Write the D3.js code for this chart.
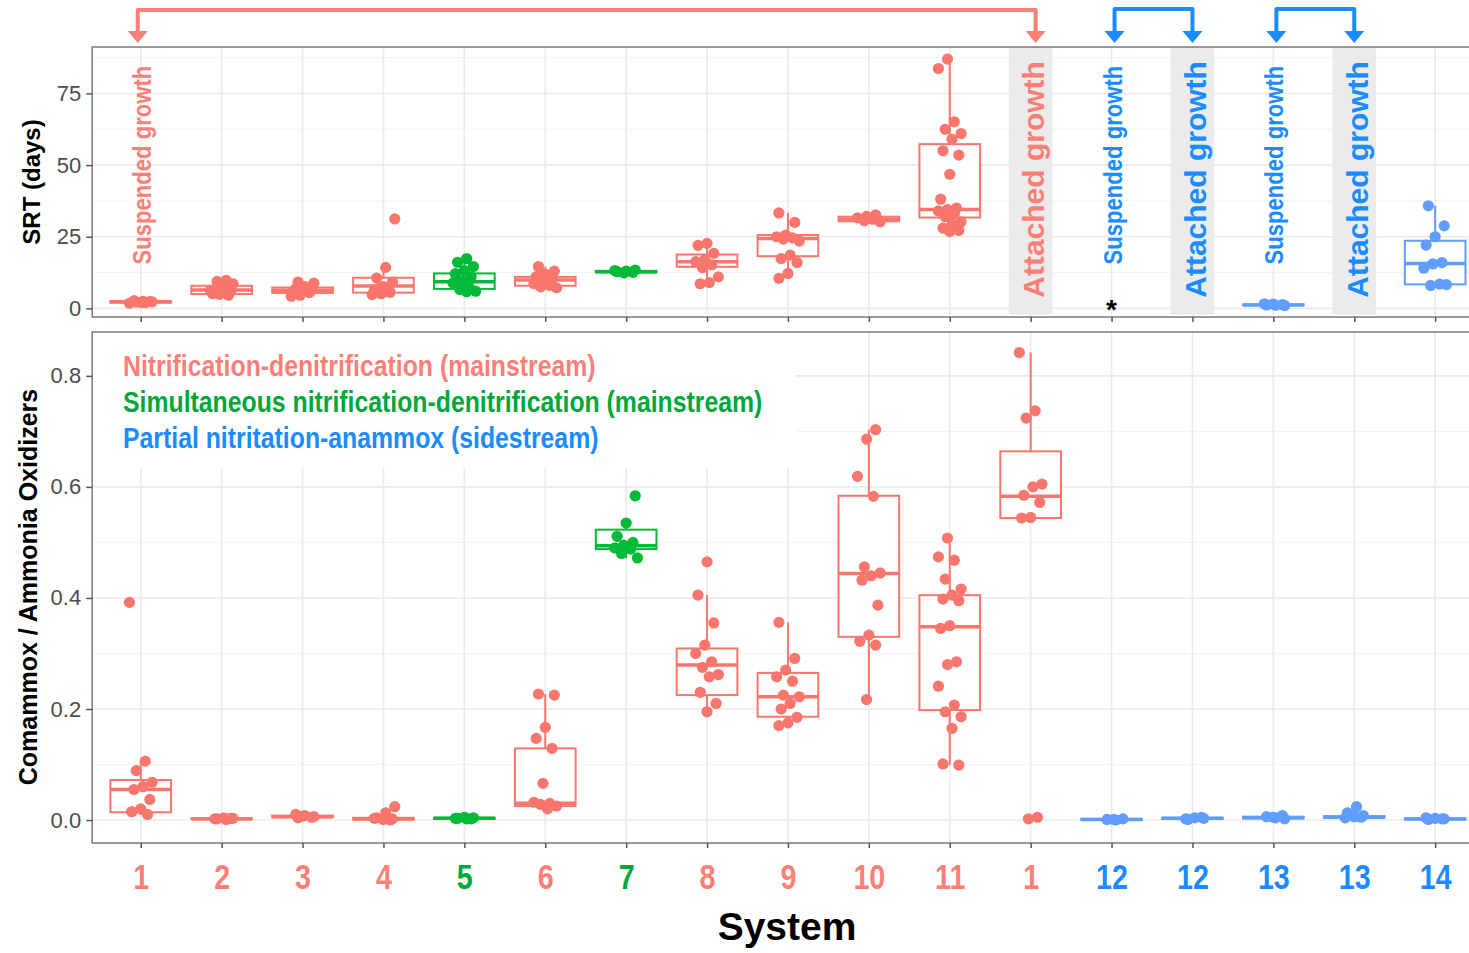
<!DOCTYPE html>
<html>
<head>
<meta charset="utf-8">
<script src="https://cdn.jsdelivr.net/npm/d3@7"></script>
<style>
  body { margin: 0; background: #fff; }
  svg { display: block; }
</style>
</head>
<body>
<svg id="chart"></svg>
<script>
// categories along the x axis (system numbers repeat for suspended / attached pairs)
var systems = ["1", "2", "3", "4", "5", "6", "7", "8", "9", "10", "11", "1", "12", "12", "13", "13", "14"];
var groups = ["ND", "ND", "ND", "ND", "SND", "ND", "SND", "ND", "ND", "ND", "ND", "ND", "PNA", "PNA", "PNA", "PNA", "PNA"];

// SRT (days), one list of samples per category
var srtPoints = [
    [1.8, 2.0, 2.2, 2.3, 2.5, 2.7, 2.4, 2.1],
    [9.8, 9.4, 8.6, 7.2, 6.5, 6.1, 5.6, 5.1, 4.6, 4.9, 6.3, 9.0],
    [9.2, 8.8, 7.6, 7.0, 6.5, 6.2, 5.8, 5.5, 4.6, 4.2],
    [31.2, 14.3, 10.6, 9.2, 7.6, 6.3, 5.6, 5.1, 4.8, 5.9, 7.0],
    [17.4, 16.1, 14.6, 13.2, 12.1, 11.0, 9.6, 8.9, 7.6, 6.6, 6.0, 5.8],
    [14.6, 13.0, 12.0, 11.1, 10.2, 9.6, 8.6, 8.0, 7.5, 7.2],
    [13.4, 13.0, 12.8, 12.6, 12.4, 13.2],
    [22.7, 22.0, 19.2, 17.0, 16.3, 15.2, 14.2, 11.0, 9.0, 8.6],
    [33.3, 30.0, 25.6, 25.0, 24.6, 24.2, 23.5, 18.6, 17.4, 16.0, 12.2, 10.5],
    [32.6, 32.1, 31.6, 31.1, 30.6, 30.2, 31.3],
    [87.0, 83.7, 65.1, 62.5, 61.0, 59.0, 55.0, 53.5, 46.8, 38.1, 35.0, 34.5, 34.0, 33.0, 32.0, 30.2, 29.5, 28.0, 27.2, 26.8],
    [],
    [],
    [],
    [1.0, 1.1, 1.2, 1.3, 1.5, 1.6],
    [],
    [35.8, 28.8, 25.0, 22.1, 16.0, 15.5, 14.0, 8.5, 8.0, 8.3]
];
// box stats: [lower whisker, q1, median, q3, upper whisker]
var srtBoxes = [
    [1.6, 2.0, 2.3, 2.6, 2.9],
    [4.5, 5.0, 6.4, 7.9, 9.8],
    [4.2, 5.4, 6.3, 7.3, 9.2],
    [4.8, 5.5, 7.8, 10.7, 14.3],
    [5.8, 6.8, 9.3, 12.2, 17.4],
    [7.2, 7.9, 9.9, 11.0, 14.6],
    [12.4, 12.6, 12.8, 13.1, 13.4],
    [8.6, 14.5, 16.3, 18.8, 22.7],
    [10.5, 18.2, 24.4, 25.6, 33.3],
    [30.0, 30.4, 31.1, 32.0, 32.6],
    [26.8, 31.7, 34.5, 57.3, 87.0],
    null,
    null,
    null,
    [1.0, 1.1, 1.2, 1.4, 1.6],
    null,
    [8.0, 8.4, 15.7, 23.6, 35.8]
];

// Comammox / AOB ratio
var ratioPoints = [
    [0.392, 0.106, 0.089, 0.068, 0.060, 0.055, 0.037, 0.020, 0.015, 0.010],
    [0.001, 0.002, 0.003, 0.004, 0.002, 0.003],
    [0.004, 0.006, 0.008, 0.010, 0.005, 0.007],
    [0.024, 0.013, 0.004, 0.002, 0.001, 0.003, 0.000],
    [0.002, 0.003, 0.004, 0.005, 0.003, 0.002],
    [0.227, 0.225, 0.167, 0.147, 0.129, 0.066, 0.032, 0.030, 0.028, 0.025, 0.020],
    [0.584, 0.535, 0.511, 0.500, 0.495, 0.490, 0.488, 0.480, 0.472],
    [0.465, 0.405, 0.355, 0.315, 0.300, 0.285, 0.275, 0.262, 0.258, 0.230, 0.210, 0.195],
    [0.356, 0.291, 0.270, 0.258, 0.250, 0.225, 0.222, 0.210, 0.200, 0.185, 0.175, 0.170],
    [0.703, 0.686, 0.619, 0.583, 0.456, 0.445, 0.440, 0.432, 0.387, 0.333, 0.322, 0.315, 0.217],
    [0.508, 0.474, 0.468, 0.434, 0.416, 0.405, 0.398, 0.395, 0.350, 0.345, 0.285, 0.280, 0.241, 0.207, 0.195, 0.186, 0.165, 0.101, 0.099],
    [0.842, 0.737, 0.724, 0.605, 0.600, 0.585, 0.572, 0.545, 0.544, 0.005, 0.002],
    [0.000, 0.001, 0.002, 0.001],
    [0.001, 0.003, 0.004, 0.002, 0.005],
    [0.002, 0.004, 0.006, 0.008, 0.005],
    [0.024, 0.013, 0.008, 0.006, 0.004, 0.005],
    [0.001, 0.002, 0.003, 0.004, 0.002]
];
var ratioBoxes = [
    [0.009, 0.014, 0.055, 0.072, 0.106],
    [0.001, 0.002, 0.002, 0.003, 0.004],
    [0.004, 0.005, 0.006, 0.008, 0.010],
    [0.000, 0.001, 0.002, 0.004, 0.006],
    [0.002, 0.002, 0.003, 0.004, 0.005],
    [0.020, 0.025, 0.030, 0.129, 0.227],
    [0.472, 0.488, 0.494, 0.523, 0.535],
    [0.195, 0.225, 0.279, 0.309, 0.405],
    [0.170, 0.186, 0.222, 0.265, 0.356],
    [0.217, 0.330, 0.444, 0.584, 0.703],
    [0.099, 0.198, 0.348, 0.405, 0.508],
    [0.544, 0.544, 0.583, 0.664, 0.842],
    [0.000, 0.000, 0.001, 0.002, 0.002],
    [0.001, 0.002, 0.003, 0.004, 0.005],
    [0.002, 0.003, 0.004, 0.006, 0.008],
    [0.003, 0.004, 0.005, 0.007, 0.009],
    [0.001, 0.001, 0.002, 0.003, 0.004]
];

var srtTicks = [0, 25, 50, 75];
var srtMinor = [12.5, 37.5, 62.5, 87.5];
var ratioTicks = [0, 0.2, 0.4, 0.6, 0.8];
var ratioMinor = [0.1, 0.3, 0.5, 0.7];

var legendGroups = ["ND", "SND", "PNA"];
var legendLabels = [
    "Nitrification-denitrification (mainstream)",
    "Simultaneous nitrification-denitrification (mainstream)",
    "Partial nitritation-anammox (sidestream)"
];

// growth mode notes in the SRT panel
var suspendedIdx = [0, 12, 14];
var attachedIdx = [11, 13, 15];
var missingIdx = [12];
var bracketPairs = [[0, 11], [12, 13], [14, 15]];

var boxColor = { ND: "#F8766D", SND: "#00BA38", PNA: "#619CFF" };
var textColor = { ND: "#F97F79", SND: "#00A83A", PNA: "#1A8CFF" };

var W = 1469, H = 953;
var sans = "'Liberation Sans', Arial, sans-serif";
// no narrow face installed, so condensed text is squeezed horizontally
var squeeze = 0.82;

var svg = d3.select("#chart").attr("width", W).attr("height", H);

var xScale = d3.scalePoint()
    .domain(d3.range(systems.length))
    .range([92.2, 1483.7])
    .padding(0.6);
var step = xScale.step();
var boxW = step * 0.75;

var yTop = d3.scaleLinear().domain([-3.0, 91.2]).range([317, 47]);
var yBot = d3.scaleLinear().domain([-0.0414, 0.879]).range([843, 332]);

function jit(i) {
    return (((i * 7) % 11) / 10 - 0.5) * 0.28 * step;
}

function drawGrid(yScale, major, minor) {
    var g = svg.append("g");
    var r = yScale.range();
    g.selectAll(".minor").data(minor).enter().append("line")
        .attr("x1", 92.2).attr("x2", 1483.7)
        .attr("y1", function (d) { return yScale(d); })
        .attr("y2", function (d) { return yScale(d); })
        .attr("stroke", "#F3F3F3").attr("stroke-width", 1);
    g.selectAll(".major").data(major).enter().append("line")
        .attr("x1", 92.2).attr("x2", 1483.7)
        .attr("y1", function (d) { return yScale(d); })
        .attr("y2", function (d) { return yScale(d); })
        .attr("stroke", "#EBEBEB").attr("stroke-width", 1.6);
    g.selectAll(".vert").data(xScale.domain()).enter().append("line")
        .attr("x1", function (d) { return xScale(d); })
        .attr("x2", function (d) { return xScale(d); })
        .attr("y1", r[0]).attr("y2", r[1])
        .attr("stroke", "#EBEBEB").attr("stroke-width", 1.6);
}

function drawBoxes(yScale, boxes, points) {
    var g = svg.append("g");
    boxes.forEach(function (b, i) {
        if (!b) return;
        var c = boxColor[groups[i]];
        var x = xScale(i);
        g.append("line").attr("x1", x).attr("x2", x)
            .attr("y1", yScale(b[3])).attr("y2", yScale(b[4]))
            .attr("stroke", c).attr("stroke-width", 2);
        g.append("line").attr("x1", x).attr("x2", x)
            .attr("y1", yScale(b[1])).attr("y2", yScale(b[0]))
            .attr("stroke", c).attr("stroke-width", 2);
        g.append("rect")
            .attr("x", x - boxW / 2).attr("width", boxW)
            .attr("y", yScale(b[3])).attr("height", Math.max(0.5, yScale(b[1]) - yScale(b[3])))
            .attr("fill", "#fff").attr("stroke", c).attr("stroke-width", 2);
        g.append("line").attr("x1", x - boxW / 2).attr("x2", x + boxW / 2)
            .attr("y1", yScale(b[2])).attr("y2", yScale(b[2]))
            .attr("stroke", c).attr("stroke-width", 3.5);
    });
    points.forEach(function (pts, i) {
        g.selectAll(null).data(pts).enter().append("circle")
            .attr("cx", function (d, j) { return xScale(i) + jit(j + i); })
            .attr("cy", function (d) { return yScale(d); })
            .attr("r", 5.6)
            .attr("fill", boxColor[groups[i]]);
    });
}

// ---- top panel (SRT) ----
drawGrid(yTop, srtTicks, srtMinor);

svg.append("g").selectAll("rect").data(attachedIdx).enter().append("rect")
    .attr("x", function (d) { return xScale(d) - step * 0.27; })
    .attr("width", step * 0.54)
    .attr("y", 47)
    .attr("height", yTop(-2.2) - 47)
    .attr("fill", "#EBEBEB");

drawBoxes(yTop, srtBoxes, srtPoints);

svg.append("g").selectAll("text").data(suspendedIdx).enter().append("text")
    .attr("transform", function (d) { return "translate(" + (xScale(d) + 1) + "," + yTop(50) + ") rotate(-90) scale(0.85,1)"; })
    .attr("text-anchor", "middle")
    .attr("dy", "0.35em")
    .style("font-family", sans).style("font-weight", "bold").style("font-size", "26px")
    .attr("fill", function (d) { return textColor[groups[d]]; })
    .text("Suspended growth");

svg.append("g").selectAll("text").data(attachedIdx).enter().append("text")
    .attr("transform", function (d) { return "translate(" + (xScale(d) + 3) + "," + yTop(45) + ") rotate(-90)"; })
    .attr("text-anchor", "middle")
    .attr("dy", "0.35em")
    .style("font-family", sans).style("font-weight", "bold").style("font-size", "30px")
    .attr("fill", function (d) { return textColor[groups[d]]; })
    .text("Attached growth");

svg.append("g").selectAll("text").data(missingIdx).enter().append("text")
    .attr("x", function (d) { return xScale(d); })
    .attr("y", yTop(2))
    .attr("dy", "0.6em")
    .attr("text-anchor", "middle")
    .style("font-family", sans).style("font-weight", "bold").style("font-size", "28px")
    .attr("fill", "#000")
    .text("*");

svg.append("rect").attr("x", 92.2).attr("y", 47).attr("width", 1483.7 - 92.2).attr("height", 270)
    .attr("fill", "none").attr("stroke", "#7A7A7A").attr("stroke-width", 1.5);

var axTop = svg.append("g").attr("transform", "translate(0,317)")
    .call(d3.axisBottom(xScale).tickSize(5).tickFormat(""));
axTop.select(".domain").remove();
axTop.selectAll("line").attr("stroke", "#555").attr("stroke-width", 1.5);

var ayTop = svg.append("g").attr("transform", "translate(92.2,0)")
    .call(d3.axisLeft(yTop).tickValues(srtTicks).tickSize(6).tickPadding(5));
ayTop.select(".domain").remove();
ayTop.selectAll("line").attr("stroke", "#555").attr("stroke-width", 1.5);
ayTop.selectAll("text").style("font-family", sans).style("font-size", "22px").attr("fill", "#4D4D4D");

// ---- bottom panel (ratio) ----
drawGrid(yBot, ratioTicks, ratioMinor);

svg.append("rect").attr("x", 92.2).attr("y", 332)
    .attr("width", xScale(8) + step * 0.1 - 92.2)
    .attr("height", yBot(0.634) - 332)
    .attr("fill", "#fff");

drawBoxes(yBot, ratioBoxes, ratioPoints);

svg.append("g").selectAll("text").data(legendLabels).enter().append("text")
    .attr("transform", function (d, i) { return "translate(123," + (376 + i * 36) + ") scale(" + 0.827 + ",1)"; })
    .style("font-family", sans).style("font-weight", "bold").style("font-size", "30px")
    .attr("fill", function (d, i) { return textColor[legendGroups[i]]; })
    .text(function (d) { return d; });

svg.append("rect").attr("x", 92.2).attr("y", 332).attr("width", 1483.7 - 92.2).attr("height", 511)
    .attr("fill", "none").attr("stroke", "#7A7A7A").attr("stroke-width", 1.5);

var axBot = svg.append("g").attr("transform", "translate(0,843)")
    .call(d3.axisBottom(xScale).tickSize(5).tickPadding(16).tickFormat(function (d) { return systems[d]; }));
axBot.select(".domain").remove();
axBot.selectAll("line").attr("stroke", "#555").attr("stroke-width", 1.5);
axBot.selectAll("text")
    .attr("transform", "scale(" + squeeze + ",1)")
    .style("font-family", sans).style("font-weight", "bold").style("font-size", "35px")
    .attr("fill", function (d) { return textColor[groups[d]]; });

var ayBot = svg.append("g").attr("transform", "translate(92.2,0)")
    .call(d3.axisLeft(yBot).tickValues(ratioTicks).tickFormat(d3.format(".1f")).tickSize(6).tickPadding(5));
ayBot.select(".domain").remove();
ayBot.selectAll("line").attr("stroke", "#555").attr("stroke-width", 1.5);
ayBot.selectAll("text").style("font-family", sans).style("font-size", "22px").attr("fill", "#4D4D4D");

// ---- axis titles ----
svg.append("text")
    .attr("transform", "translate(40,182) rotate(-90)")
    .attr("text-anchor", "middle")
    .style("font-family", sans).style("font-weight", "bold").style("font-size", "24px")
    .text("SRT (days)");

svg.append("text")
    .attr("transform", "translate(37,587) rotate(-90)")
    .attr("text-anchor", "middle")
    .style("font-family", sans).style("font-weight", "bold").style("font-size", "25px")
    .text("Comammox / Ammonia Oxidizers");

svg.append("text")
    .attr("x", 787).attr("y", 940)
    .attr("text-anchor", "middle")
    .style("font-family", sans).style("font-weight", "bold").style("font-size", "39px")
    .text("System");

// ---- brackets linking suspended and attached growth ----
var br = svg.append("g");
bracketPairs.forEach(function (p, k) {
    var c = textColor[groups[p[0]]];
    var xa = xScale(p[0]) + (k === 0 ? -3 : 3);
    var xb = xScale(p[1]) + (k === 0 ? 5 : 0);
    var yh = k === 0 ? 10 : 9;
    br.append("path")
        .attr("d", "M" + xa + ",33 L" + xa + "," + yh + " L" + xb + "," + yh + " L" + xb + ",33")
        .attr("fill", "none").attr("stroke", c).attr("stroke-width", 4)
        .attr("stroke-linejoin", "round");
    [xa, xb].forEach(function (x) {
        br.append("path")
            .attr("d", "M" + (x - 10) + ",31 L" + (x + 10) + ",31 L" + x + ",43 Z")
            .attr("fill", c);
    });
});
</script>
</body>
</html>
